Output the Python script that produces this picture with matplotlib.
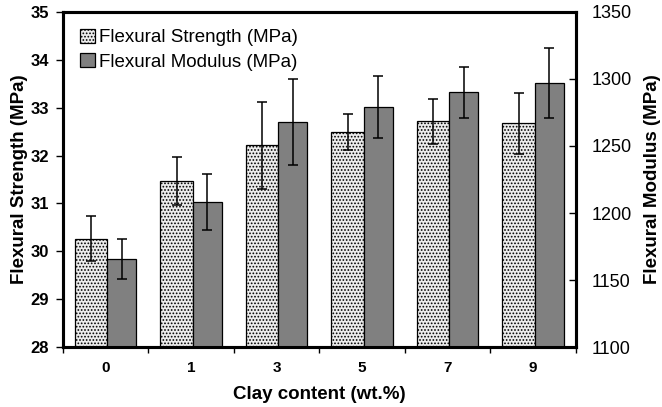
import numpy as np
import matplotlib.pyplot as plt

plt.rcParams['font.family'] = ['Liberation Sans', 'DejaVu Sans']
plt.rcParams['hatch.color'] = '#555555'
plt.rcParams['hatch.linewidth'] = 0.8

# Datos: contenido de arcilla y propiedades a flexión
arcilla = ['0', '1', '3', '5', '7', '9']
resistencia = [30.26, 31.46, 32.21, 32.49, 32.72, 32.67]
err_resistencia = [0.47, 0.50, 0.90, 0.37, 0.47, 0.63]
modulo = [1166, 1208, 1268, 1279, 1290, 1297]
err_modulo = [15, 21, 32, 23, 19, 26]

x = np.arange(len(arcilla)) + 0.5

fig = plt.figure(figsize=(6.62, 4.07), dpi=100)
ax = fig.add_axes([0.095, 0.147, 0.775, 0.824])
ax2 = ax.twinx()

ancho1 = 0.38
ancho2 = 0.34
b1 = ax.bar(x - ancho1 / 2 + 0.02, np.array(resistencia) - 28, bottom=28, width=ancho1,
            color='#ececec', edgecolor='black', linewidth=0.9, hatch='.....',
            label='Flexural Strength (MPa)')
ax.errorbar(x - ancho1 / 2 + 0.02, resistencia, yerr=err_resistencia, fmt='none',
            ecolor='black', elinewidth=1.1, capsize=3.5, capthick=1.1)

b2 = ax2.bar(x + ancho2 / 2 + 0.02, np.array(modulo) - 1100, bottom=1100, width=ancho2,
             color='#808080', edgecolor='black', linewidth=0.9,
             label='Flexural Modulus (MPa)')
ax2.errorbar(x + ancho2 / 2 + 0.02, modulo, yerr=err_modulo, fmt='none',
             ecolor='black', elinewidth=1.1, capsize=3.5, capthick=1.1)

ax.set_xlim(0, len(arcilla))
ax.set_ylim(28, 35)
ax2.set_ylim(1100, 1350)

# marcas en los limites de grupo, etiquetas en el centro
ax.set_xticks(np.arange(len(arcilla) + 1))
ax.set_xticklabels([])
ax.set_xticks(x, minor=True)
ax.set_xticklabels(arcilla, minor=True, fontsize=11, fontweight='bold')
ax.tick_params(axis='x', which='minor', length=0, pad=10)
ax.tick_params(axis='x', which='major', length=4, width=1, direction='out')

ax.set_yticks(np.arange(28, 36, 1))
ax.tick_params(axis='y', length=5, width=1, direction='out', labelsize=12, pad=5)
for t in ax.get_yticklabels():
    t.set_fontweight('bold')

ax2.set_yticks(np.arange(1100, 1351, 50))
ax2.tick_params(axis='y', length=5, width=1, direction='in', labelsize=13, pad=11)

for a in (ax, ax2):
    for s in a.spines.values():
        s.set_linewidth(2.2)

ax.set_xlabel('Clay content (wt.%)', fontsize=13.5, fontweight='bold', labelpad=8)
ax.set_ylabel('Flexural Strength (MPa)', fontsize=13.5, fontweight='bold', labelpad=2)
ax2.set_ylabel('Flexural Modulus (MPa)', fontsize=13.5, fontweight='bold', labelpad=9)

ax.legend(handles=[b1, b2], loc='upper left', frameon=False, fontsize=13.5,
          handlelength=0.8, handleheight=0.8, handletextpad=0.2,
          borderaxespad=0.5, labelspacing=0.35)

plt.savefig('out.png', dpi=100)
